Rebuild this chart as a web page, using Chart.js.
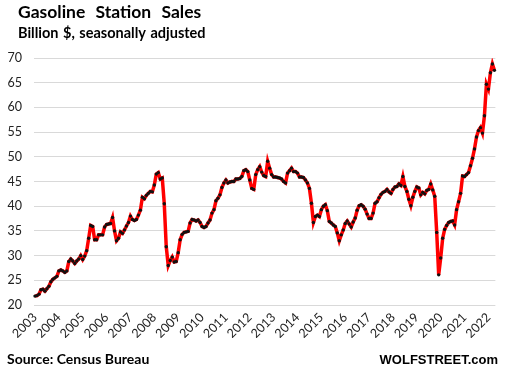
<!DOCTYPE html>
<html>
<head>
<meta charset="utf-8">
<script src="https://cdn.jsdelivr.net/npm/chart.js@4.4.0/dist/chart.umd.min.js"></script>
<style>
  html, body { margin: 0; padding: 0; background: #fff; }
  #wrap { width: 510px; height: 378px; position: relative; }
</style>
</head>
<body>
<div id="wrap"><canvas id="gasChart" width="510" height="378"></canvas></div>
<script>
// monthly series, Apr 2003 .. Jul 2022, billion $ SA
const startYear = 2003;
const startMonth = 4;

const yearLabels = ['2003', '2004', '2005', '2006', '2007', '2008', '2009', '2010', '2011', '2012',
                    '2013', '2014', '2015', '2016', '2017', '2018', '2019', '2020', '2021', '2022'];

const sales = [
    21.8, 21.9, 22.2, 23.1, 23.2, 22.8, 23.3, 23.8, 24.7, 25.2, 25.5, 25.8,
    26.9, 27.1, 26.9, 26.6, 26.9, 28.8, 29.3, 28.9, 28.4, 28.9, 29.3, 30.0,
    29.2, 29.9, 31.0, 33.5, 36.1, 35.9, 33.2, 33.2, 34.2, 34.2, 34.2, 35.8,
    36.3, 36.4, 36.5, 37.7, 35.0, 33.0, 33.5, 34.8, 34.5, 35.2, 36.0, 36.7,
    38.0, 37.3, 37.1, 37.3, 38.2, 39.2, 41.8, 41.5, 42.2, 42.6, 43.0, 42.9,
    44.3, 46.5, 46.8, 45.5, 45.7, 40.5, 31.8, 28.0, 29.0, 29.7, 28.7, 28.8,
    30.6, 33.2, 34.3, 34.7, 34.8, 34.9, 36.6, 37.3, 37.2, 37.0, 37.2, 36.7,
    35.9, 35.7, 35.9, 36.6, 37.2, 38.6, 39.3, 41.1, 41.6, 42.3, 43.8, 44.7,
    45.3, 44.7, 44.9, 45.0, 45.0, 45.5, 45.5, 45.6, 46.0, 47.2, 47.4, 47.0,
    45.3, 43.6, 43.4, 46.4, 47.4, 48.0, 46.9, 46.2, 46.0, 49.1, 47.7, 46.4,
    45.9, 45.9, 45.8, 45.7, 45.5, 45.0, 44.7, 46.7, 47.2, 47.7, 47.0, 47.0,
    46.7, 45.9, 45.9, 45.8, 45.3, 44.7, 43.6, 40.6, 36.7, 37.9, 38.2, 37.9,
    39.3, 40.0, 40.3, 39.1, 36.9, 36.6, 36.2, 35.9, 34.6, 33.0, 34.2, 35.2,
    36.5, 37.0, 36.4, 35.8, 36.8, 37.6, 39.2, 40.1, 40.3, 40.0, 39.4, 38.4,
    37.5, 37.5, 38.6, 40.6, 40.9, 41.7, 42.4, 42.8, 43.0, 43.4, 42.9, 42.6,
    43.4, 43.9, 44.0, 44.5, 44.2, 46.0, 44.0, 43.0, 41.4, 40.1, 41.8, 43.0,
    43.9, 43.7, 42.3, 42.8, 42.5, 43.2, 43.4, 44.5, 43.3, 42.0, 34.7, 26.1,
    29.5, 33.5, 35.3, 36.1, 36.7, 36.9, 37.0, 36.2, 39.3, 40.9, 42.6, 46.1,
    46.0, 46.4, 46.8, 48.2, 49.7, 51.6, 54.0, 55.3, 55.9, 54.8, 58.3, 64.7,
    63.7, 67.0, 68.8, 67.5
];

const yMin = 20;
const yMax = 70;
const yStep = 5;

const titleText = 'Gasoline Station Sales';
const subtitleText = 'Billion $, seasonally adjusted';
const sourceText = 'Source: Census Bureau';
const brandText = 'WOLFSTREET.com';

// month labels like 2003-04
const months = sales.map((v, i) => {
    const m = startMonth - 1 + i;
    const y = startYear + Math.floor(m / 12);
    return y + '-' + String(m % 12 + 1).padStart(2, '0');
});

const chartText = {
    id: 'chartText',
    afterDraw(chart) {
        const ctx = chart.ctx;
        ctx.save();
        ctx.fillStyle = '#000';
        ctx.textAlign = 'left';
        ctx.textBaseline = 'alphabetic';
        ctx.font = 'bold 17.5px Lato';
        ctx.wordSpacing = '6px';
        ctx.fillText(titleText, 18, 18);
        ctx.font = 'bold 14.5px Lato';
        ctx.wordSpacing = '1px';
        ctx.fillText(subtitleText, 18, 38);
        ctx.wordSpacing = '0px';
        ctx.font = 'bold 14px Lato';
        ctx.fillText(sourceText, 7, 364);
        ctx.font = 'bold 13px "Liberation Sans"';
        ctx.textAlign = 'right';
        ctx.fillText(brandText, 498, 364);
        ctx.restore();
    }
};

const ctx = document.getElementById('gasChart').getContext('2d');
new Chart(ctx, {
    type: 'line',
    data: {
        labels: months,
        datasets: [{
            label: 'Gasoline station sales',
            data: sales,
            borderColor: '#ff0000',
            borderWidth: 3.5,
            pointRadius: 1.7,
            pointBorderWidth: 0,
            pointBackgroundColor: '#111',
            tension: 0,
            fill: false
        }]
    },
    options: {
        responsive: false,
        animation: false,
        devicePixelRatio: 1,
        layout: { padding: { top: 58, right: 5, bottom: 40, left: 0 } },
        plugins: {
            legend: { display: false },
            tooltip: { enabled: false }
        },
        scales: {
            x: {
                offset: true,
                grid: { display: false, drawTicks: false },
                border: { display: false },
                afterFit: s => { s.height = 33; },
                ticks: {
                    autoSkip: false,
                    minRotation: 45,
                    maxRotation: 45,
                    padding: 5,
                    color: '#222',
                    font: { family: 'Lato', size: 12.5 },
                    callback: (v, i) => (i % 12 === 0 ? yearLabels[i / 12] : '')
                }
            },
            y: {
                min: yMin,
                max: yMax,
                afterFit: s => { s.width = 34; },
                grid: { color: '#d9d9d9', lineWidth: 1, drawTicks: false },
                border: { display: false },
                ticks: {
                    stepSize: yStep,
                    padding: 12,
                    color: '#222',
                    font: { family: 'Lato', size: 12.5 }
                }
            }
        }
    },
    plugins: [chartText]
});
</script>
</body>
</html>
